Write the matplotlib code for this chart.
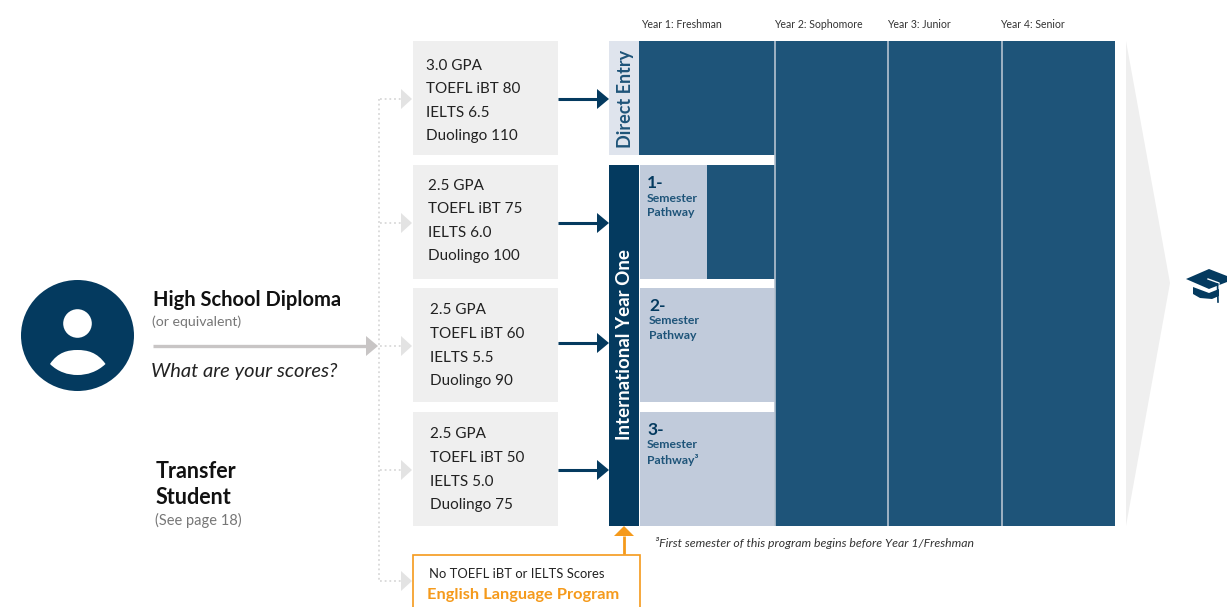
"""Pathway diagram: admission scores -> Direct Entry / International Year One."""

import matplotlib
matplotlib.use('Agg')
import matplotlib.patches as mpatches
import matplotlib.path as mpath
import matplotlib.pyplot as plt

plt.rcParams['font.family'] = ['Lato', 'DejaVu Sans']

NAVY = '#043a5f'
BLUE = '#1e5479'
PALE = '#c1cbdb'
PALER = '#dfe4ed'
BOX = '#efefef'
ORANGE = '#f59a1b'
DOT = '#d9d9d9'

year_labels = ['Year 1: Freshman', 'Year 2: Sophomore', 'Year 3: Junior', 'Year 4: Senior']
year_label_x = [641, 774, 887, 1000]
year_edges = [639, 775, 888, 1002, 1115]

score_lines = [
    ['3.0 GPA', 'TOEFL iBT 80', 'IELTS 6.5', 'Duolingo 110'],
    ['2.5 GPA', 'TOEFL iBT 75', 'IELTS 6.0', 'Duolingo 100'],
    ['2.5 GPA', 'TOEFL iBT 60', 'IELTS 5.5', 'Duolingo 90'],
    ['2.5 GPA', 'TOEFL iBT 50', 'IELTS 5.0', 'Duolingo 75'],
]
score_text_x = [425.5, 427.5, 429.5, 429.5]
score_text_y = [65.5, 185.5, 310.5, 434.5]
row_top = [41, 165, 288, 412]
row_bottom = [155, 279, 402, 526]
arrow_y = [99, 223, 343, 470]
dotted_y = [99, 223, 346, 470, 581]
pathway_nums = ['1-', '2-', '3-']
pathway_names = ['Semester\nPathway', 'Semester\nPathway', 'Semester\nPathway³']
pathway_text_x = [647, 649, 647]


def rect(ax, x0, y0, x1, y1, color, **kw):
    ax.add_patch(mpatches.Rectangle((x0, y0), x1 - x0, y1 - y0, facecolor=color,
                                    edgecolor=kw.pop('edgecolor', 'none'), **kw))


def tri(ax, x_tip, y, length, half, color, up=False):
    if up:
        pts = [(x_tip - half, y + length), (x_tip + half, y + length), (x_tip, y)]
    else:
        pts = [(x_tip - length, y - half), (x_tip - length, y + half), (x_tip, y)]
    ax.add_patch(mpatches.Polygon(pts, closed=True, facecolor=color, edgecolor='none'))


fig = plt.figure(figsize=(12.27, 6.07), dpi=100)
ax = fig.add_axes([0, 0, 1, 1])
ax.set_xlim(0, 1227)
ax.set_ylim(607, 0)
ax.axis('off')

# person icon
ax.add_patch(mpatches.Ellipse((77.5, 335.5), 113, 111, facecolor=NAVY, edgecolor='none'))
ax.add_patch(mpatches.Circle((77.5, 323.5), 14.3, facecolor='white', edgecolor='none'))
P = mpath.Path
shoulders = P([(50, 364), (58, 352), (68, 350), (77.5, 350), (87, 350), (97, 352), (105.5, 364),
               (97, 372), (87, 375), (77.5, 375), (68, 375), (58, 372), (50, 364)],
              [P.MOVETO, P.CURVE4, P.CURVE4, P.CURVE4, P.CURVE4, P.CURVE4, P.CURVE4,
               P.CURVE4, P.CURVE4, P.CURVE4, P.CURVE4, P.CURVE4, P.CURVE4])
ax.add_patch(mpatches.PathPatch(shoulders, facecolor='white', edgecolor='none'))

# left hand text
ax.text(153, 300, 'High School Diploma', fontsize=14.5, fontweight='bold', color='#111111', va='center')
ax.text(152, 322, '(or equivalent)', fontsize=10.2, color='#777777', va='center')
ax.plot([153, 368], [346, 346], color='#c8c5c5', linewidth=2.4, solid_capstyle='butt')
tri(ax, 378, 346, 12, 10, '#c8c5c5')
ax.text(151, 371.5, 'What are your scores?', fontsize=14.5, style='italic', color='#222222', va='center')
ax.text(156, 471.5, 'Transfer', fontsize=15.5, fontweight='bold', color='#111111', va='center')
ax.text(156, 497.5, 'Student', fontsize=15.5, fontweight='bold', color='#111111', va='center')
ax.text(155, 520, '(See page 18)', fontsize=10.5, color='#777777', va='center')

# dotted connectors
ax.plot([379, 379], [99, 581], color=DOT, linewidth=1.3, linestyle=(0, (1, 1.6)))
for y in dotted_y:
    ax.plot([380, 402], [y, y], color=DOT, linewidth=1.3, linestyle=(0, (1, 1.6)))
    tri(ax, 412, y, 11, 10, '#e3e3e3')

# score boxes and arrows
for lines, tx, ty, top, bot, ay in zip(score_lines, score_text_x, score_text_y, row_top, row_bottom, arrow_y):
    rect(ax, 413, top, 558, bot, BOX)
    for i, line in enumerate(lines):
        ax.text(tx, ty + i * 23.6, line, fontsize=11, color='#222222', va='center')
    ax.plot([558, 598], [ay, ay], color=NAVY, linewidth=2.2, solid_capstyle='butt')
    tri(ax, 609, ay, 12, 10, NAVY)

# gray arrowhead towards graduation
ax.add_patch(mpatches.Polygon([(1126, 41), (1170, 283), (1126, 526)], closed=True,
                              facecolor=BOX, edgecolor='none'))

# year columns
rect(ax, year_edges[0], 41, 775, 155, BLUE)
rect(ax, 707, 165, 775, 279, BLUE)
for x0, x1 in zip(year_edges[1:-1], year_edges[2:]):
    rect(ax, x0, 41, x1, 526, BLUE)
for x in year_edges[1:4]:
    ax.plot([x, x], [41, 526], color='#b5c2d0', linewidth=1.2, solid_capstyle='butt')
for label, x in zip(year_labels, year_label_x):
    ax.text(x, 24, label, fontsize=7.6, color='#333333', va='center')

# side bars
rect(ax, 609, 41, 639, 155, PALER)
ax.text(625, 99, 'Direct Entry', fontsize=13, fontweight='bold', color=BLUE, rotation=90,
        ha='center', va='center')
rect(ax, 609, 165, 639, 526, NAVY)
ax.text(625, 345, 'International Year One', fontsize=13.5, fontweight='bold', color='white', rotation=90,
        ha='center', va='center')

# pathway panels
pathway_x1 = [707, 775, 775]
for i in range(3):
    top = row_top[i + 1]
    rect(ax, 640, top, pathway_x1[i], row_bottom[i + 1], PALE)
    ax.text(pathway_text_x[i], top + 18, pathway_nums[i], fontsize=12.5, fontweight='bold', color=NAVY, va='center')
    ax.text(pathway_text_x[i], top + 27.5, pathway_names[i], fontsize=8.8, fontweight='bold', color=BLUE,
            va='top', linespacing=1.4)

ax.text(655, 543, '³First semester of this program begins before Year 1/Freshman', fontsize=8.8,
        style='italic', color='#333333', va='center')

# English language box
ax.add_patch(mpatches.Rectangle((412.5, 554.5), 227, 60, facecolor='white', edgecolor=ORANGE, linewidth=1.2))
ax.plot([624, 624], [536, 554], color=ORANGE, linewidth=2, solid_capstyle='butt')
tri(ax, 624, 526, 10, 10, ORANGE, up=True)
ax.text(429, 574, 'No TOEFL iBT or IELTS Scores', fontsize=9.4, color='#222222', va='center')
ax.text(427, 595, 'English Language Program', fontsize=11.8, fontweight='bold', color=ORANGE, va='center')

# mortarboard icon
ax.add_patch(mpatches.Polygon([(1186, 279), (1209, 269), (1227, 276), (1227, 282), (1209, 289)],
                              closed=True, facecolor=NAVY, edgecolor='none'))
ax.plot([1208, 1219, 1219], [279, 283, 284], color='white', linewidth=1)
ax.add_patch(mpatches.Polygon([(1193, 287), (1209, 293), (1219, 289), (1219, 296), (1212, 299),
                               (1200, 298), (1193, 294)],
                              closed=True, facecolor=NAVY, edgecolor='none'))
ax.plot([1217.5, 1218], [284, 302], color=NAVY, linewidth=1.2)

fig.savefig('out.png', dpi=100)
